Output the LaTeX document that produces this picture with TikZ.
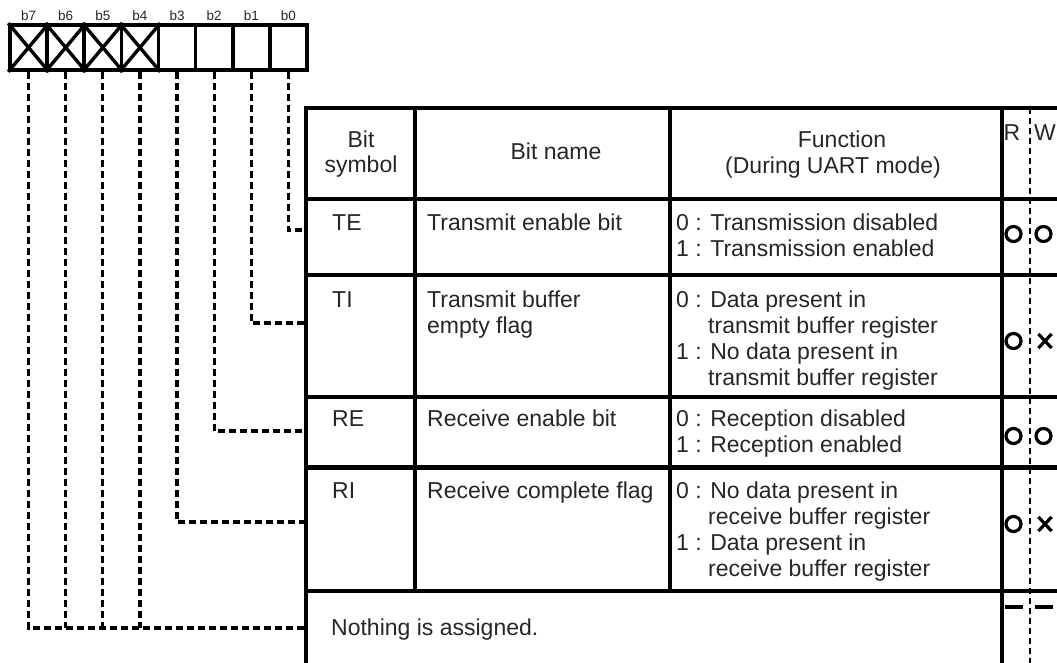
\documentclass[tikz,border=0pt]{standalone}
\usepackage{fontspec}
\setmainfont{Liberation Sans}
\usetikzlibrary{shapes.misc}
\newcommand\cellfont{\fontsize{23}{26}\selectfont}
\begin{document}
\begin{tikzpicture}[x=1pt,y=-1pt,
  regcell/.style={draw, line width=3.6pt, minimum width=37.125pt, minimum height=45pt, inner sep=0pt},
  bitlbl/.style={font=\fontsize{13.5}{15}\selectfont, anchor=base, inner sep=0pt, text=black!85},
  conn/.style={line width=3.2pt, dash pattern=on 7pt off 4pt},
  grid/.style={line width=3.3pt},
  rwdiv/.style={line width=1.3pt, dash pattern=on 6pt off 4pt},
  txt/.style={font=\cellfont, anchor=base west, inner sep=0pt, text=black!85},
  ctxt/.style={font=\cellfont, anchor=base, inner sep=0pt, text=black!85},
  rwyes/.style={circle, draw, line width=3.2pt, minimum size=15pt, inner sep=0pt},
  rwno/.style={cross out, draw, line width=3.2pt, minimum width=10pt, minimum height=11pt, inner sep=0pt},
  rwnone/.style={rectangle, fill, minimum width=18pt, minimum height=4pt, inner sep=0pt},
]
\useasboundingbox (0,0) rectangle (1057,663);
\clip (0,0) rectangle (1057,663);

% register bits b7 .. b0
\foreach \i [evaluate=\i as \x using 10+37.125*(7.5-\i)] in {0,...,7} {
  \node[regcell] (bit\i) at (\x,47.5) {};
  \node[bitlbl] (lbl\i) at (\x,20.5) {b\i};
}
\foreach \i in {4,...,7} {
  \draw[line width=3.4pt] (bit\i.north west) -- (bit\i.south east)
                          (bit\i.north east) -- (bit\i.south west);
}

% table grid
\draw[grid] (306,108) -- (1060,108);
\draw[grid] (306,199) -- (1060,199);
\draw[grid] (306,275) -- (1060,275);
\draw[grid] (306,397) -- (1060,397);
\draw[line width=5pt] (306,467) -- (1060,467);
\draw[grid] (306,591) -- (1060,591);
\draw[grid] (306,106.4) -- (306,670);
\draw[grid] (415,108) -- (415,591);
\draw[grid] (670,108) -- (670,591);
\draw[grid] (1002,108) -- (1002,670);
\draw[rwdiv] (1030,108) -- (1030,670);

% entry points of the bit leaders on the table edge
\coordinate (te-in) at (306,230);
\coordinate (ti-in) at (306,323);
\coordinate (re-in) at (306,431);
\coordinate (ri-in) at (306,522);
\coordinate (na-in) at (306,628);

% bit leaders
\draw[conn, line width=3.8pt] (bit0.south) |- (te-in);
\draw[conn] (bit1.south) |- (ti-in);
\draw[conn] (bit2.south) |- (re-in);
\draw[conn] (bit3.south) |- (ri-in);
\draw[conn] (bit7.south) |- (na-in);
\draw[conn] (bit6.south) -- (bit6.south |- na-in);
\draw[conn] (bit5.south) -- (bit5.south |- na-in);
\draw[conn] (bit4.south) -- (bit4.south |- na-in);

% header
\node[ctxt] (h-sym1) at (361,148) {Bit};
\node[ctxt] (h-sym2) at (361,173) {symbol};
\node[ctxt] (h-name) at (556,160) {Bit name};
\node[ctxt] (h-fn1) at (842,148) {Function};
\node[ctxt] (h-fn2) at (833,174) {(During UART mode)};
\node[ctxt] (h-r) at (1012,141) {R};
\node[ctxt] (h-w) at (1045,141) {W};

% TE row
\node[txt] (te-sym) at (332,230) {TE};
\node[txt] (te-name) at (427,230) {Transmit enable bit};
\node[txt] (te-f1) at (676,230) {0 : Transmission disabled};
\node[txt] (te-f2) at (676,256) {1 : Transmission enabled};
\node[rwyes] (te-r) at (1013.5,234) {};
\node[rwyes] (te-w) at (1043.5,234) {};

% TI row
\node[txt] (ti-sym) at (332,307) {TI};
\node[txt] (ti-name1) at (427,307) {Transmit buffer};
\node[txt] (ti-name2) at (427,333) {empty flag};
\node[txt] (ti-f1) at (676,307) {0 : Data present in};
\node[txt] (ti-f2) at (708,333) {transmit buffer register};
\node[txt] (ti-f3) at (676,359) {1 : No data present in};
\node[txt] (ti-f4) at (708,385) {transmit buffer register};
\node[rwyes] (ti-r) at (1013.5,341) {};
\node[rwno] (ti-w) at (1045,341) {};

% RE row
\node[txt] (re-sym) at (332,426) {RE};
\node[txt] (re-name) at (427,426) {Receive enable bit};
\node[txt] (re-f1) at (676,426) {0 : Reception disabled};
\node[txt] (re-f2) at (676,452) {1 : Reception enabled};
\node[rwyes] (re-r) at (1013.5,436) {};
\node[rwyes] (re-w) at (1043.5,436) {};

% RI row
\node[txt] (ri-sym) at (332,498) {RI};
\node[txt] (ri-name) at (427,498) {Receive complete flag};
\node[txt] (ri-f1) at (676,498) {0 : No data present in};
\node[txt] (ri-f2) at (708,524) {receive buffer register};
\node[txt] (ri-f3) at (676,550) {1 : Data present in};
\node[txt] (ri-f4) at (708,576) {receive buffer register};
\node[rwyes] (ri-r) at (1013.5,524) {};
\node[rwno] (ri-w) at (1045,524) {};

% unassigned bits
\node[txt] (na-text) at (331,635) {Nothing is assigned.};
\node[rwnone] (na-r) at (1013.5,607) {};
\node[rwnone] (na-w) at (1044,607) {};
\end{tikzpicture}
\end{document}
